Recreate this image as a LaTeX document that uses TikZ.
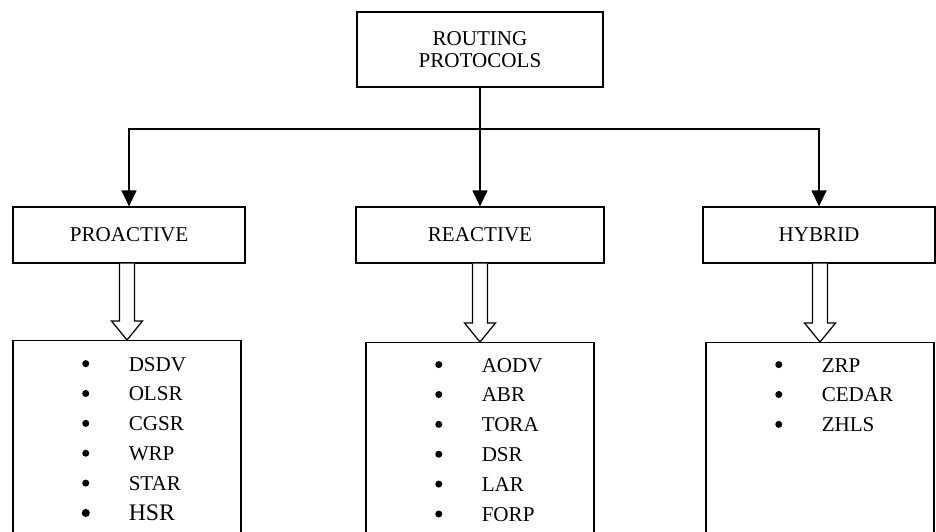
\documentclass[tikz,border=0pt]{standalone}
\usepackage{fontspec}
\setmainfont{Liberation Serif}
\usetikzlibrary{arrows.meta, calc}
\tikzset{
  every picture/.style={line width=0.7pt},
  box/.style={draw, rectangle, align=center, inner sep=2pt, font=\fontsize{12pt}{12.8pt}\selectfont},
  listbox/.style={draw, rectangle, minimum width=4.56cm, minimum height=4cm, anchor=north},
  items/.style={anchor=base west, inner sep=0pt, font=\fontsize{12pt}{17pt}\selectfont},
  arrow/.style={-{Triangle[length=0.32cm, width=0.3cm]}},
  hollow/.style={draw, fill=white, line join=miter},
}
\newcommand{\bul}[1][2pt]{\makebox[0.3cm]{\tikz[baseline=0pt]\fill (0pt,4.2pt) circle (#1);}}
\newcommand{\bigrow}{\fontsize{13.5pt}{17pt}\selectfont}
% open block arrow between two boxes
\newcommand{\hollowarrow}[2]{%
  \draw[hollow] let \p1=(#1.south), \p2=(#2.north) in
    (\x2-0.15cm,\y1) -- (\x2-0.15cm,\y2+0.38cm) -- (\x2-0.31cm,\y2+0.38cm) -- (\x2,\y2)
    -- (\x2+0.31cm,\y2+0.38cm) -- (\x2+0.15cm,\y2+0.38cm) -- (\x2+0.15cm,\y1);}

\begin{document}
\begin{tikzpicture}[x=0.02cm, y=-0.02cm]
  \useasboundingbox (0,0) rectangle (936,531);
  \clip (0,0) rectangle (936,531);
  \node[box, minimum width=4.92cm, minimum height=1.5cm] (root) at (480,49.5) {ROUTING\\PROTOCOLS};
  \coordinate (split) at (480,129);
  % classes
  \node[box, minimum width=4.64cm, minimum height=1.12cm] (pro) at (129,235) {PROACTIVE};
  \node[box, minimum width=4.96cm, minimum height=1.12cm] (rea) at (480,235) {REACTIVE};
  \node[box, minimum width=4.64cm, minimum height=1.12cm] (hyb) at (819,235) {HYBRID};
  \draw (root.south) -- (split);
  \draw[arrow] (split) -| (pro.north);
  \draw[arrow] (split) -- (rea.north);
  \draw[arrow] (split) -| (hyb.north);
  % lists
  \node[listbox] (plist) at (127,340) {};
  \node[listbox] (rlist) at (480,342) {};
  \node[listbox] (hlist) at (820,342) {};
  \hollowarrow{pro}{plist}
  \hollowarrow{rea}{rlist}
  \hollowarrow{hyb}{hlist}
  \node[items] (pitems) at ($(plist.north west)+(65.5,31)$) {\begin{tabular}[t]{@{}l@{\hspace{0.71cm}}l@{}}
    \bul & DSDV\\ \bul & OLSR\\ \bul & CGSR\\ \bul & WRP\\ \bul & STAR\\ \bul[2.3pt] & \bigrow HSR
  \end{tabular}};
  \node[items] (ritems) at ($(rlist.north west)+(65.5,30)$) {\begin{tabular}[t]{@{}l@{\hspace{0.71cm}}l@{}}
    \bul & AODV\\ \bul & ABR\\ \bul & TORA\\ \bul & DSR\\ \bul & LAR\\ \bul & FORP
  \end{tabular}};
  \node[items] (hitems) at ($(hlist.north west)+(65.5,30)$) {\begin{tabular}[t]{@{}l@{\hspace{0.71cm}}l@{}}
    \bul & ZRP\\ \bul & CEDAR\\ \bul & ZHLS
  \end{tabular}};
\end{tikzpicture}
\end{document}
